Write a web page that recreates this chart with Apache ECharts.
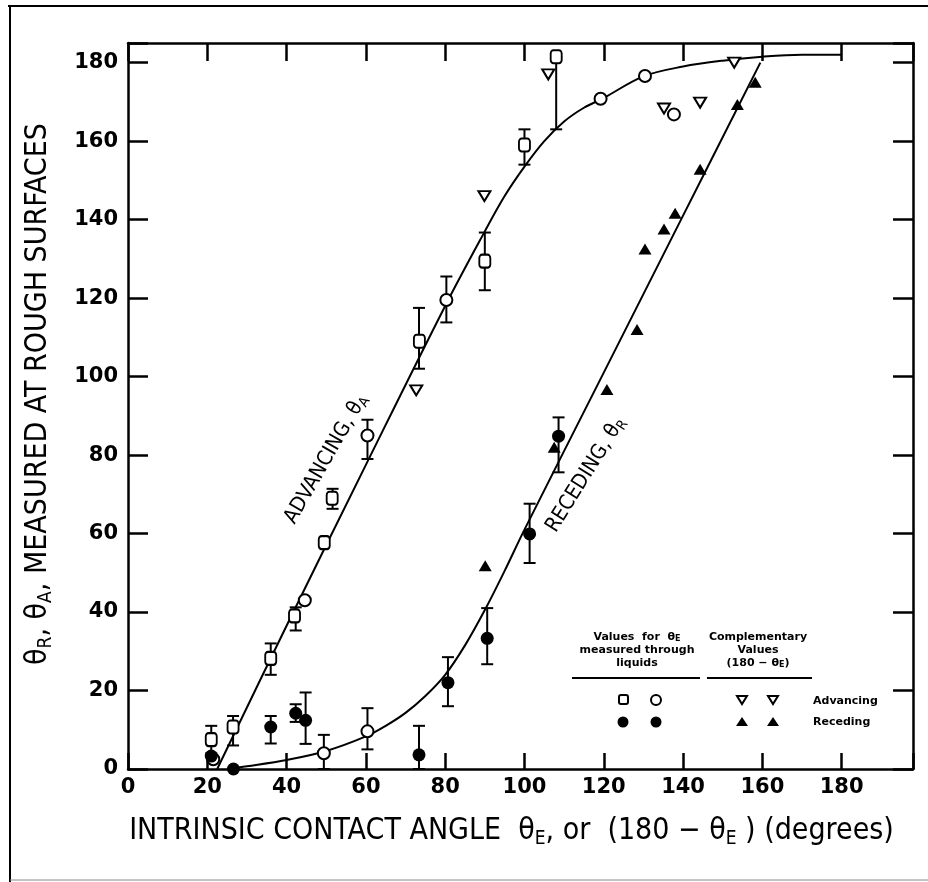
<!DOCTYPE html>
<html>
<head>
<meta charset="utf-8">
<script src="https://cdn.jsdelivr.net/npm/echarts@6/dist/echarts.min.js"></script>
<style>
  html, body { margin: 0; padding: 0; background: #fff; }
  #chart { width: 928px; height: 882px; }
</style>
</head>
<body>
<div id="chart"></div>
<script>
// advancing, measured through liquids (open squares / open circles)
var sqX = [21, 26.5, 36, 42, 49.5, 51.5, 73.5, 90, 100, 108];
var sqY = [7.5, 10.7, 28.2, 39, 57.7, 69, 109, 129.4, 159, 181.5];
var circX = [21.5, 44.6, 60.4, 80.3, 119.2, 130.4, 137.7, 49.4, 60.4];
var circY = [2.5, 43, 85, 119.5, 170.8, 176.6, 166.8, 4, 9.6];

// receding, measured through liquids (filled circles)
var dotX = [21, 26.6, 36, 42.3, 44.8, 73.4, 80.7, 90.6, 101.3, 108.6];
var dotY = [3.3, 0, 10.7, 14.2, 12.4, 3.6, 22, 33.3, 59.9, 84.8];

// complementary values (180 - theta_E)
var advCompX = [72.7, 89.9, 106, 135.2, 144.3, 152.9];
var advCompY = [96.5, 146, 177, 168.3, 169.8, 180];
var recCompX = [90.1, 107.5, 120.8, 128.4, 130.4, 135.2, 138, 144.3, 153.7, 158.2];
var recCompY = [51.8, 82, 96.7, 112, 132.5, 137.6, 141.6, 152.8, 169.3, 175];

// error bars
var errX  = [21, 26.5, 36, 36, 42.3, 42.3, 44.8, 49.4, 51.6, 60.4, 60.4, 73.4, 73.4, 80.3, 80.7, 90, 90.6, 100, 101.3, 108, 108.6];
var errLo = [4, 6, 24, 6.5, 35.3, 12, 6.4, 0, 66.3, 79, 5, 0, 102, 113.8, 16, 122, 26.7, 154, 52.5, 163, 75.6];
var errHi = [11, 13.5, 32, 13.5, 41.2, 16.5, 19.5, 8.7, 71.4, 89, 15.5, 11, 117.5, 125.5, 28.5, 136.7, 41, 163, 67.6, 181.5, 89.6];

// fitted curves
var advCurveX = [22.5, 40, 60, 80, 90, 95, 100, 105, 110, 115, 120, 130, 140, 150, 160, 170, 180];
var advCurveY = [0, 36.5, 77.5, 118, 137, 146, 153.5, 160, 165, 168.5, 171, 176.5, 179, 180.5, 181.5, 182, 182];
var recCurveX = [25, 30, 40, 50, 60, 65, 70, 75, 80, 85, 90, 95, 100, 120, 140, 159.5];
var recCurveY = [0, 0.7, 2.3, 4.6, 8.3, 11, 14.3, 18.6, 24, 31.5, 40.5, 50.5, 61, 101, 141, 180];

var xTicks = [0, 20, 40, 60, 80, 100, 120, 140, 160, 180];
var yTicks = [0, 20, 40, 60, 80, 100, 120, 140, 160, 180];

function pairs(xs, ys) { return xs.map(function (x, i) { return [x, ys[i]]; }); }

var tickFont = 'DejaVu Sans';
var titleFont = "'Liberation Sans Narrow', 'DejaVu Sans Condensed', 'Liberation Sans', sans-serif";
var legFont = 'bold 11px "DejaVu Sans"';

var chart = echarts.init(document.getElementById('chart'), null, { renderer: 'canvas' });

var axisLine = { onZero: false, lineStyle: { color: '#000', width: 2.5 } };
var tickFmt = function (list) {
  return function (v) { return list.indexOf(v) >= 0 ? String(v) : ''; };
};

var openStyle = { color: '#fff', borderColor: '#000', borderWidth: 2, opacity: 1 };
var solidStyle = { color: '#000', opacity: 1 };

var titleRich = {
  t: { fontFamily: titleFont, fontSize: 30, color: '#000', lineHeight: 36 },
  s: { fontFamily: titleFont, fontSize: 19, color: '#000', lineHeight: 19, verticalAlign: 'bottom' }
};

function legText(x, y, txt, align) {
  return {
    type: 'text', x: x, y: y, silent: true,
    style: {
      text: txt, font: legFont, align: align || 'center', verticalAlign: 'middle', fill: '#000',
      rich: { s: { font: 'bold 8px "DejaVu Sans"', verticalAlign: 'bottom', fill: '#000' } }
    }
  };
}

option = {
  backgroundColor: '#fff',
  animation: false,
  grid: { left: 128, right: 15, top: 43, bottom: 113 },
  xAxis: [
    {
      type: 'value', min: 0, max: 198, interval: 20,
      axisLine: axisLine,
      axisTick: { inside: true, length: 16, lineStyle: { color: '#000', width: 2.5 } },
      axisLabel: { formatter: tickFmt(xTicks), color: '#000', fontFamily: tickFont, fontWeight: 'bold', fontSize: 21, margin: 8 },
      splitLine: { show: false },
      name: '{t|INTRINSIC CONTACT ANGLE  θ}{s|E}{t|, or  (180 − θ}{s|E}{t| ) (degrees)}',
      nameLocation: 'middle', nameGap: 44,
      nameTextStyle: { rich: titleRich, padding: [0, 18, 0, 0] }
    },
    {
      type: 'value', min: 0, max: 198, interval: 20, position: 'top',
      axisLine: axisLine,
      axisTick: { inside: true, length: 18, lineStyle: { color: '#000', width: 2.5 } },
      axisLabel: { show: false }, splitLine: { show: false }
    }
  ],
  yAxis: [
    {
      type: 'value', min: 0, max: 185, interval: 20,
      axisLine: axisLine,
      axisTick: { inside: true, length: 20, lineStyle: { color: '#000', width: 2.5 } },
      axisLabel: { formatter: tickFmt(yTicks), color: '#000', fontFamily: tickFont, fontWeight: 'bold', fontSize: 21, margin: 10 },
      splitLine: { show: false },
      name: '{t|θ}{s|R}{t|, θ}{s|A}{t|, MEASURED AT ROUGH SURFACES}',
      nameLocation: 'middle', nameGap: 72, nameRotate: 90,
      nameTextStyle: { rich: titleRich, padding: [0, 0, 0, 24] }
    },
    {
      type: 'value', min: 0, max: 185, interval: 20, position: 'right',
      axisLine: axisLine,
      axisTick: { inside: true, length: 20, lineStyle: { color: '#000', width: 2.5 } },
      axisLabel: { show: false }, splitLine: { show: false }
    }
  ],
  series: [
    {
      name: 'advancing curve', type: 'line', smooth: 0.35, symbol: 'none',
      lineStyle: { color: '#000', width: 2 },
      data: pairs(advCurveX, advCurveY), z: 2
    },
    {
      name: 'receding curve', type: 'line', smooth: 0.35, symbol: 'none',
      lineStyle: { color: '#000', width: 2 },
      data: pairs(recCurveX, recCurveY), z: 2
    },
    {
      name: 'error', type: 'custom', z: 3,
      data: errX.map(function (x, i) { return [x, errLo[i], errHi[i]]; }),
      encode: { x: 0, y: [1, 2] },
      renderItem: function (params, api) {
        var x = api.value(0);
        var lo = api.coord([x, api.value(1)]);
        var hi = api.coord([x, api.value(2)]);
        var w = 6;
        var st = { stroke: '#000', lineWidth: 2 };
        return {
          type: 'group',
          children: [
            { type: 'line', shape: { x1: hi[0], y1: hi[1], x2: lo[0], y2: lo[1] }, style: st },
            { type: 'line', shape: { x1: hi[0] - w, y1: hi[1], x2: hi[0] + w, y2: hi[1] }, style: st },
            { type: 'line', shape: { x1: lo[0] - w, y1: lo[1], x2: lo[0] + w, y2: lo[1] }, style: st }
          ]
        };
      }
    },
    {
      name: 'adv sq', type: 'scatter', symbol: 'roundRect', symbolSize: [11, 13], z: 5,
      itemStyle: openStyle, data: pairs(sqX, sqY)
    },
    {
      name: 'adv circ', type: 'scatter', symbol: 'circle', symbolSize: 12, z: 5,
      itemStyle: openStyle, data: pairs(circX, circY)
    },
    {
      name: 'rec dot', type: 'scatter', symbol: 'circle', symbolSize: 13, z: 5,
      itemStyle: solidStyle, data: pairs(dotX, dotY)
    },
    {
      name: 'adv comp', type: 'scatter', symbol: 'triangle', symbolRotate: 180, symbolSize: [12, 10], z: 5,
      itemStyle: openStyle, data: pairs(advCompX, advCompY)
    },
    {
      name: 'rec comp', type: 'scatter', symbol: 'triangle', symbolSize: [13, 11], z: 5,
      itemStyle: solidStyle, data: pairs(recCompX, recCompY)
    },
    {
      name: 'labels', type: 'scatter', symbolSize: 0, z: 6, silent: true,
      itemStyle: { opacity: 1 },
      data: [
        { value: [50, 79], label: { rotate: 60, formatter: '{t|ADVANCING, θ}{s|A}' } },
        { value: [115.5, 75], label: { rotate: 58, formatter: '{t|RECEDING, θ}{s|R}' } }
      ],
      label: {
        show: true, position: 'inside', opacity: 1, color: '#000',
        rich: {
          t: { fontFamily: titleFont, fontSize: 21, color: '#000', lineHeight: 24 },
          s: { fontFamily: titleFont, fontSize: 14, color: '#000', lineHeight: 14, verticalAlign: 'bottom' }
        }
      }
    }
  ],
  graphic: [
    // outer frame
    { type: 'line', shape: { x1: 10, y1: 6, x2: 10, y2: 882 }, style: { stroke: '#000', lineWidth: 2 } },
    { type: 'line', shape: { x1: 8, y1: 6, x2: 928, y2: 6 }, style: { stroke: '#000', lineWidth: 2 } },
    { type: 'line', shape: { x1: 10, y1: 880, x2: 928, y2: 880 }, style: { stroke: '#888', lineWidth: 1 } },
    // legend table
    legText(637, 637, 'Values  for  θ{s|E}'),
    legText(637, 650, 'measured through'),
    legText(637, 663, 'liquids'),
    legText(758, 637, 'Complementary'),
    legText(758, 650, 'Values'),
    legText(758, 663, '(180 − θ{s|E})'),
    { type: 'line', silent: true, shape: { x1: 572, y1: 678, x2: 700, y2: 678 }, style: { stroke: '#000', lineWidth: 2 } },
    { type: 'line', silent: true, shape: { x1: 707, y1: 678, x2: 812, y2: 678 }, style: { stroke: '#000', lineWidth: 2 } },
    // advancing row
    { type: 'rect', silent: true, shape: { x: 619, y: 695, width: 9, height: 9, r: 2 }, style: { fill: '#fff', stroke: '#000', lineWidth: 2 } },
    { type: 'circle', silent: true, shape: { cx: 656, cy: 700, r: 5 }, style: { fill: '#fff', stroke: '#000', lineWidth: 2 } },
    { type: 'polygon', silent: true, shape: { points: [[737, 696], [747, 696], [742, 704]] }, style: { fill: '#fff', stroke: '#000', lineWidth: 2 } },
    { type: 'polygon', silent: true, shape: { points: [[768, 696], [778, 696], [773, 704]] }, style: { fill: '#fff', stroke: '#000', lineWidth: 2 } },
    legText(813, 701, 'Advancing', 'left'),
    // receding row
    { type: 'circle', silent: true, shape: { cx: 623, cy: 722, r: 5.5 }, style: { fill: '#000' } },
    { type: 'circle', silent: true, shape: { cx: 656, cy: 722, r: 5.5 }, style: { fill: '#000' } },
    { type: 'polygon', silent: true, shape: { points: [[736, 726], [748, 726], [742, 717]] }, style: { fill: '#000' } },
    { type: 'polygon', silent: true, shape: { points: [[767, 726], [779, 726], [773, 717]] }, style: { fill: '#000' } },
    legText(813, 722, 'Receding', 'left')
  ]
};

chart.setOption(option);
</script>
</body>
</html>
